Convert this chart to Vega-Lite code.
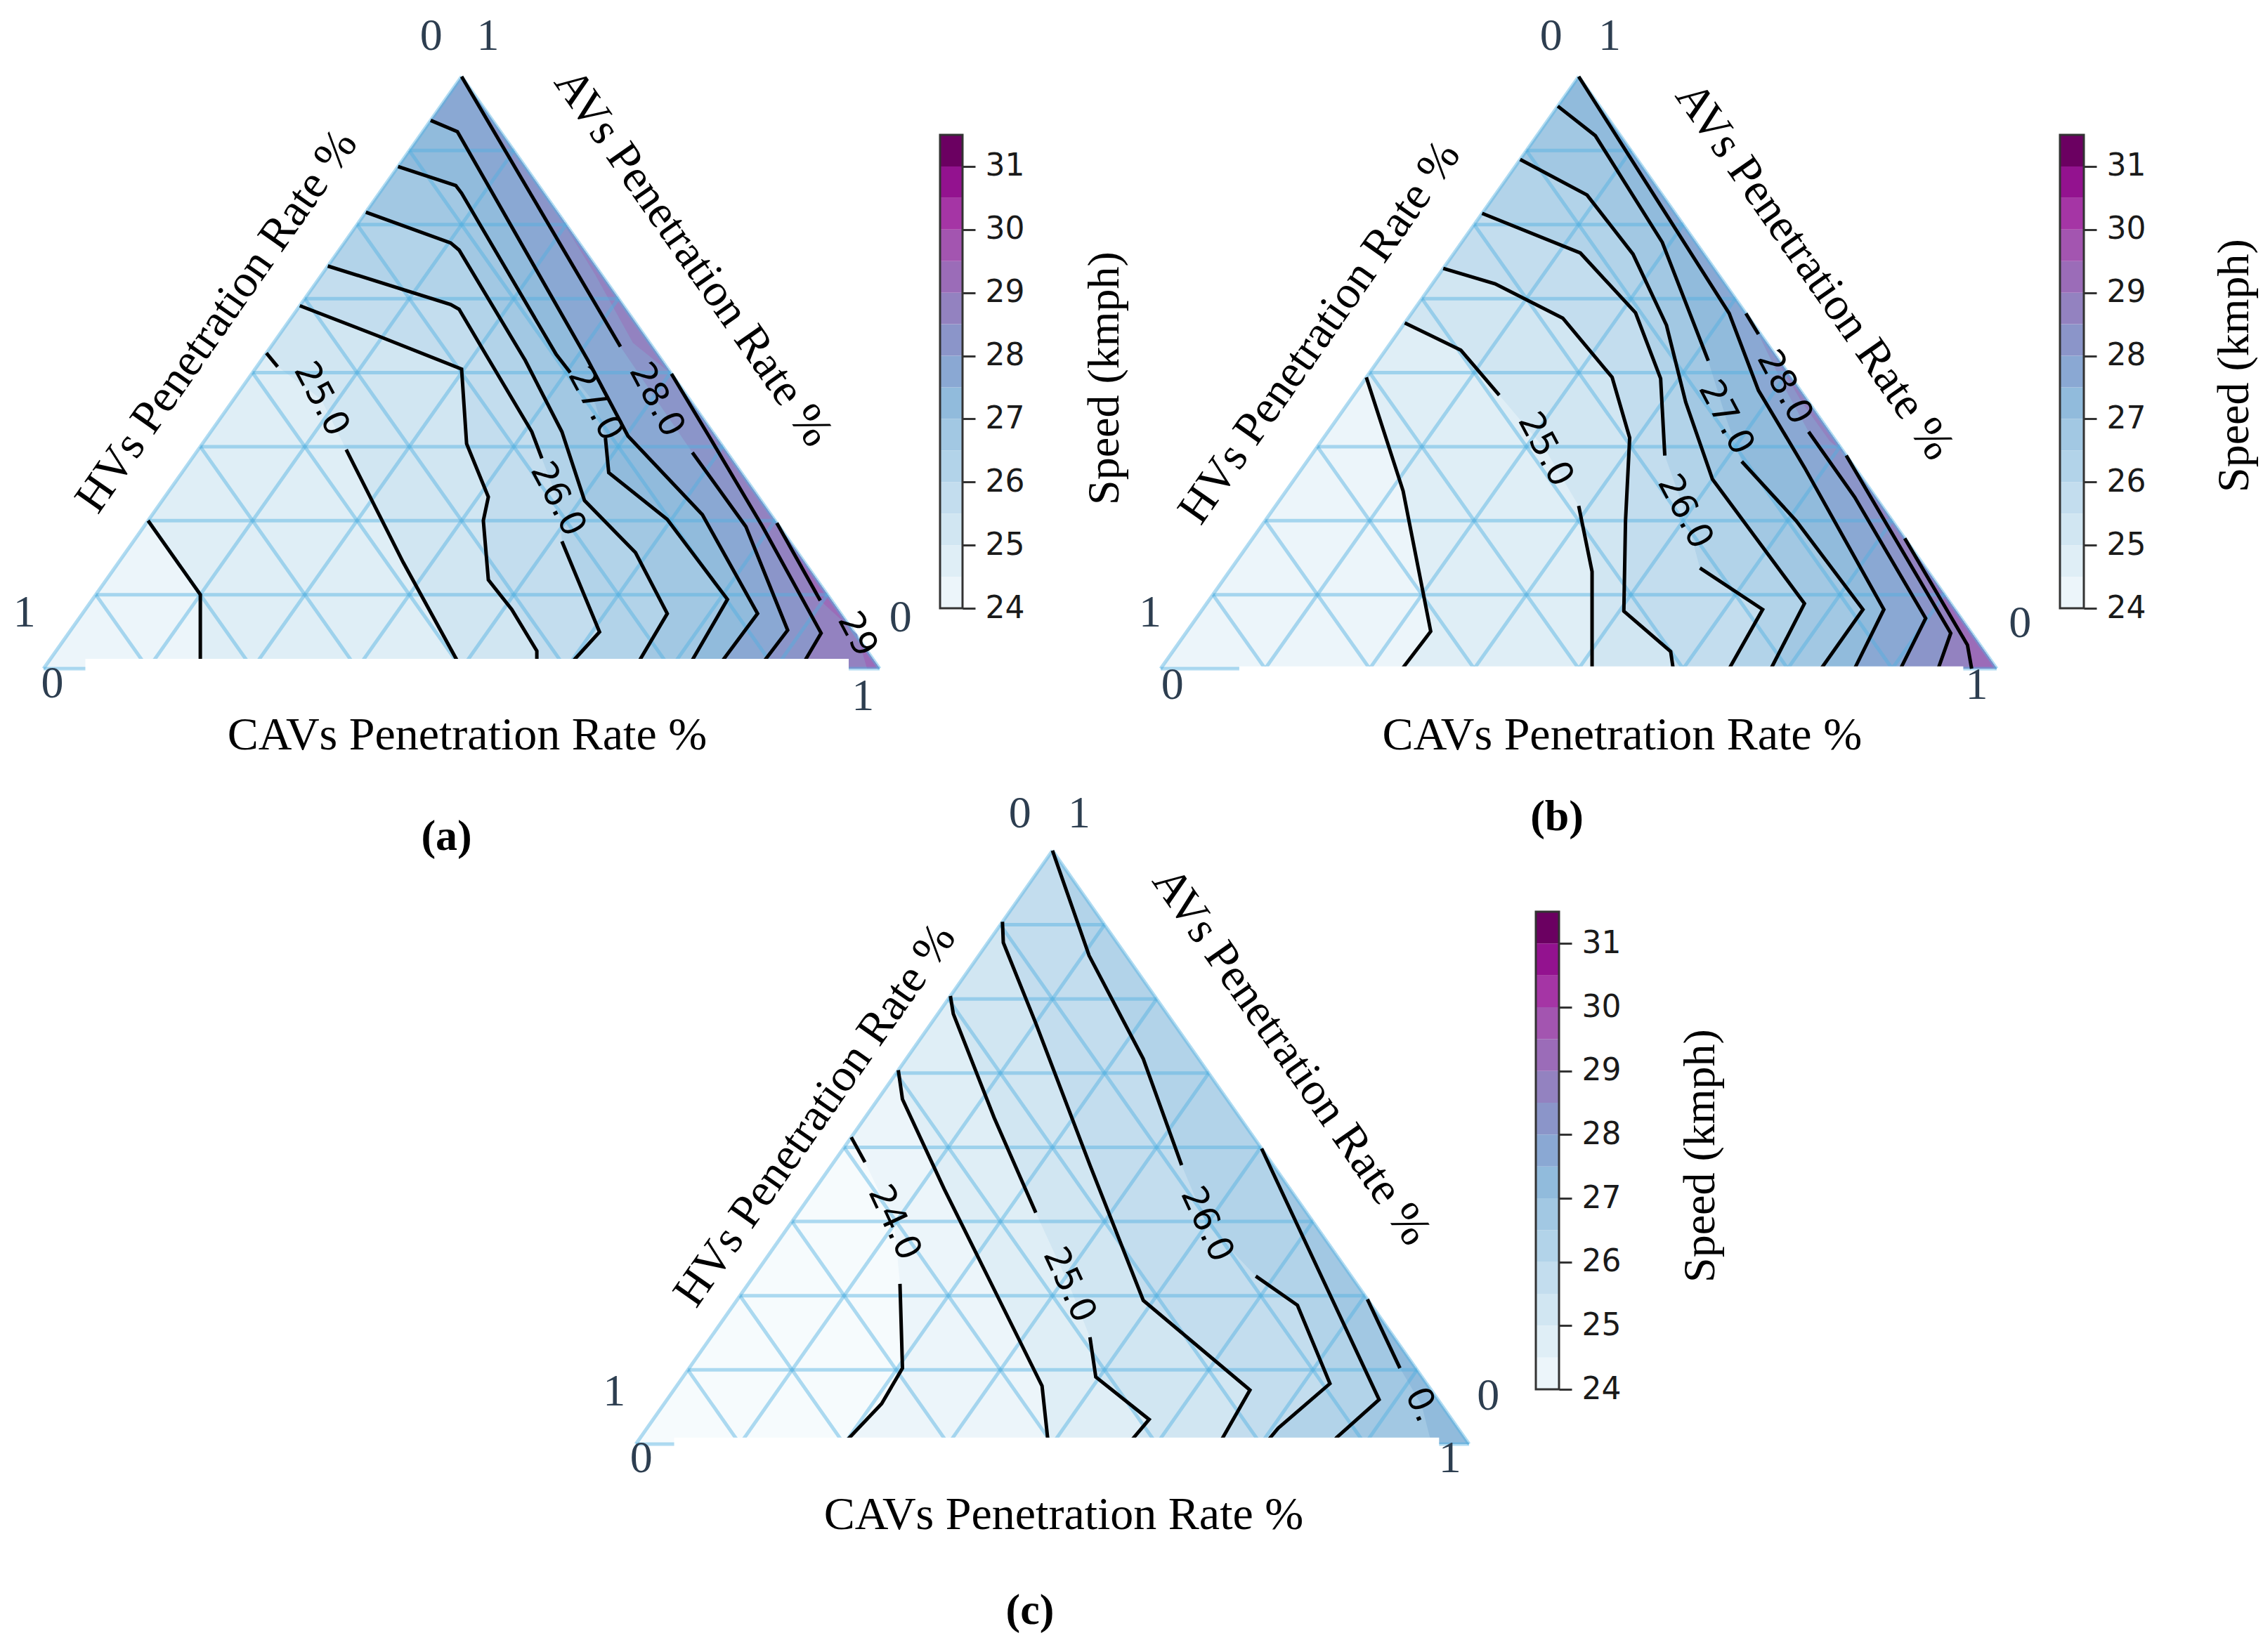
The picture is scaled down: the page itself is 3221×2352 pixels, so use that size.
{
"$schema": "https://vega.github.io/schema/vega-lite/v6.json",
"background": "#ffffff",
"padding": 0,
"autosize": {"type": "none"},
"width": 3221,
"height": 2352,
"config": {"view": {"stroke": null}},
"datasets": {
"grid": [
{"x":0.0625,"y":0.125,"x2":0.9375,"y2":0.125},{"x":0.125,"y":0.25,"x2":0.875,"y2":0.25},{"x":0.1875,"y":0.375,"x2":0.8125,"y2":0.375},{"x":0.25,"y":0.5,"x2":0.75,"y2":0.5},{"x":0.3125,"y":0.625,"x2":0.6875,"y2":0.625},{"x":0.375,"y":0.75,"x2":0.625,"y2":0.75},{"x":0.4375,"y":0.875,"x2":0.5625,"y2":0.875},
{"x":0.125,"y":0,"x2":0.5625,"y2":0.875},{"x":0.25,"y":0,"x2":0.625,"y2":0.75},{"x":0.375,"y":0,"x2":0.6875,"y2":0.625},{"x":0.5,"y":0,"x2":0.75,"y2":0.5},{"x":0.625,"y":0,"x2":0.8125,"y2":0.375},{"x":0.75,"y":0,"x2":0.875,"y2":0.25},{"x":0.875,"y":0,"x2":0.9375,"y2":0.125},
{"x":0.125,"y":0,"x2":0.0625,"y2":0.125},{"x":0.25,"y":0,"x2":0.125,"y2":0.25},{"x":0.375,"y":0,"x2":0.1875,"y2":0.375},{"x":0.5,"y":0,"x2":0.25,"y2":0.5},{"x":0.625,"y":0,"x2":0.3125,"y2":0.625},{"x":0.75,"y":0,"x2":0.375,"y2":0.75},{"x":0.875,"y":0,"x2":0.4375,"y2":0.875},
{"x":0,"y":0,"x2":1,"y2":0},{"x":0,"y":0,"x2":0.5,"y2":1},{"x":1,"y":0,"x2":0.5,"y2":1}
],
"cbar": [
{"lo":24,"hi":24.5},{"lo":24.5,"hi":25},{"lo":25,"hi":25.5},{"lo":25.5,"hi":26},{"lo":26,"hi":26.5},{"lo":26.5,"hi":27},{"lo":27,"hi":27.5},{"lo":27.5,"hi":28},{"lo":28,"hi":28.5},{"lo":28.5,"hi":29},{"lo":29,"hi":29.5},{"lo":29.5,"hi":30},{"lo":30,"hi":30.5},{"lo":30.5,"hi":31},{"lo":31,"hi":31.5}
],
"frame": [{"lo":24,"hi":31.5}],
"strip": [
{"p":"a","x":0.05,"x2":0.963,"y":-0.03,"y2":0.0166},
{"p":"b","x":0.094,"x2":0.96,"y":-0.03,"y2":0.004},
{"p":"c","x":0.046,"x2":0.964,"y":-0.03,"y2":0.011}
],
"txt": [
{"p":"a","k":"n","x":0.4636,"y":1.068,"t":"0"},{"p":"a","k":"n","x":0.5315,"y":1.068,"t":"1"},{"p":"a","k":"n","x":-0.023,"y":0.094,"t":"1"},{"p":"a","k":"n","x":0.0105,"y":-0.026,"t":"0"},{"p":"a","k":"n","x":1.025,"y":0.085,"t":"0"},{"p":"a","k":"n","x":0.98,"y":-0.048,"t":"1"},
{"p":"a","k":"b","x":0.5067,"y":-0.1127,"t":"CAVs Penetration Rate %"},
{"p":"a","k":"h","x":0.207,"y":0.587,"t":"HVs Penetration Rate %"},
{"p":"a","k":"v","x":0.777,"y":0.694,"t":"AVs Penetration Rate %"},
{"p":"a","k":"g","x":0.482,"y":-0.2835,"t":"(a)"},
{"p":"a","k":"c","x":0.332,"y":0.455,"t":"25.0"},{"p":"a","k":"c","x":0.615,"y":0.286,"t":"26.0"},{"p":"a","k":"c","x":0.66,"y":0.447,"t":"27.0"},{"p":"a","k":"c","x":0.733,"y":0.454,"t":"28.0"},{"p":"a","k":"c","x":0.973,"y":0.058,"t":"29"},
{"p":"b","k":"n","x":0.467,"y":1.068,"t":"0"},{"p":"b","k":"n","x":0.537,"y":1.068,"t":"1"},{"p":"b","k":"n","x":-0.0126,"y":0.0937,"t":"1"},{"p":"b","k":"n","x":0.014,"y":-0.029,"t":"0"},{"p":"b","k":"n","x":1.028,"y":0.0756,"t":"0"},{"p":"b","k":"n","x":0.976,"y":-0.029,"t":"1"},
{"p":"b","k":"b","x":0.552,"y":-0.1127,"t":"CAVs Penetration Rate %"},
{"p":"b","k":"h","x":0.19,"y":0.568,"t":"HVs Penetration Rate %"},
{"p":"b","k":"v","x":0.782,"y":0.671,"t":"AVs Penetration Rate %"},
{"p":"b","k":"g","x":0.474,"y":-0.2503,"t":"(b)"},
{"p":"b","k":"c","x":0.46,"y":0.37,"t":"25.0"},{"p":"b","k":"c","x":0.627,"y":0.265,"t":"26.0"},{"p":"b","k":"c","x":0.676,"y":0.424,"t":"27.0"},{"p":"b","k":"c","x":0.746,"y":0.475,"t":"28.0"},
{"p":"c","k":"n","x":0.461,"y":1.062,"t":"0"},{"p":"c","k":"n","x":0.532,"y":1.062,"t":"1"},{"p":"c","k":"n","x":-0.026,"y":0.088,"t":"1"},{"p":"c","k":"n","x":0.0065,"y":-0.025,"t":"0"},{"p":"c","k":"n","x":1.023,"y":0.081,"t":"0"},{"p":"c","k":"n","x":0.977,"y":-0.025,"t":"1"},
{"p":"c","k":"b","x":0.5135,"y":-0.119,"t":"CAVs Penetration Rate %"},
{"p":"c","k":"h","x":0.215,"y":0.554,"t":"HVs Penetration Rate %"},
{"p":"c","k":"v","x":0.7867,"y":0.653,"t":"AVs Penetration Rate %"},
{"p":"c","k":"g","x":0.473,"y":-0.28,"t":"(c)"},
{"p":"c","k":"c","x":0.31,"y":0.373,"t":"24.0"},{"p":"c","k":"c","x":0.52,"y":0.268,"t":"25.0"},{"p":"c","k":"c","x":0.685,"y":0.37,"t":"26.0"},{"p":"c","k":"c","x":0.943,"y":0.066,"t":"0."}
],
"pts": [
{"p":"a","g":"a00","v":24,"o":0,"x":0,"y":0,"s":""},{"p":"a","g":"a00","v":24,"o":1,"x":1,"y":0,"s":""},{"p":"a","g":"a00","v":24,"o":2,"x":0.5,"y":1,"s":""},
{"p":"a","g":"a01","v":24.5,"o":0,"x":0.125,"y":0.25,"s":"a01"},{"p":"a","g":"a01","v":24.5,"o":1,"x":0.1875,"y":0.125,"s":"a01"},{"p":"a","g":"a01","v":24.5,"o":2,"x":0.1875,"y":0,"s":"a01"},{"p":"a","g":"a01","v":24.5,"o":3,"x":1,"y":0,"s":""},{"p":"a","g":"a01","v":24.5,"o":4,"x":0.5,"y":1,"s":""},
{"p":"a","g":"a02","v":25,"o":0,"x":0.2665,"y":0.533,"s":"a02a"},{"p":"a","g":"a02","v":25,"o":1,"x":0.28,"y":0.51,"s":"a02a"},{"p":"a","g":"a02","v":25,"o":2,"x":0.332,"y":0.455,"s":""},{"p":"a","g":"a02","v":25,"o":3,"x":0.362,"y":0.37,"s":"a02b"},{"p":"a","g":"a02","v":25,"o":4,"x":0.43,"y":0.18,"s":"a02b"},{"p":"a","g":"a02","v":25,"o":5,"x":0.5,"y":0,"s":"a02b"},{"p":"a","g":"a02","v":25,"o":6,"x":1,"y":0,"s":""},{"p":"a","g":"a02","v":25,"o":7,"x":0.5,"y":1,"s":""},
{"p":"a","g":"a03","v":25.5,"o":0,"x":0.3065,"y":0.613,"s":"a03"},{"p":"a","g":"a03","v":25.5,"o":1,"x":0.4,"y":0.562,"s":"a03"},{"p":"a","g":"a03","v":25.5,"o":2,"x":0.5,"y":0.506,"s":"a03"},{"p":"a","g":"a03","v":25.5,"o":3,"x":0.506,"y":0.38,"s":"a03"},{"p":"a","g":"a03","v":25.5,"o":4,"x":0.532,"y":0.29,"s":"a03"},{"p":"a","g":"a03","v":25.5,"o":5,"x":0.526,"y":0.25,"s":"a03"},{"p":"a","g":"a03","v":25.5,"o":6,"x":0.532,"y":0.15,"s":"a03"},{"p":"a","g":"a03","v":25.5,"o":7,"x":0.56,"y":0.1,"s":"a03"},{"p":"a","g":"a03","v":25.5,"o":8,"x":0.59,"y":0.03,"s":"a03"},{"p":"a","g":"a03","v":25.5,"o":9,"x":0.59,"y":0,"s":"a03"},{"p":"a","g":"a03","v":25.5,"o":10,"x":1,"y":0,"s":""},{"p":"a","g":"a03","v":25.5,"o":11,"x":0.5,"y":1,"s":""},
{"p":"a","g":"a04","v":26,"o":0,"x":0.34,"y":0.68,"s":"a04a"},{"p":"a","g":"a04","v":26,"o":1,"x":0.487,"y":0.615,"s":"a04a"},{"p":"a","g":"a04","v":26,"o":2,"x":0.497,"y":0.607,"s":"a04a"},{"p":"a","g":"a04","v":26,"o":3,"x":0.533,"y":0.521,"s":"a04a"},{"p":"a","g":"a04","v":26,"o":4,"x":0.584,"y":0.4,"s":"a04a"},{"p":"a","g":"a04","v":26,"o":5,"x":0.596,"y":0.355,"s":"a04a"},{"p":"a","g":"a04","v":26,"o":6,"x":0.615,"y":0.286,"s":""},{"p":"a","g":"a04","v":26,"o":7,"x":0.62,"y":0.215,"s":"a04b"},{"p":"a","g":"a04","v":26,"o":8,"x":0.665,"y":0.062,"s":"a04b"},{"p":"a","g":"a04","v":26,"o":9,"x":0.625,"y":0,"s":"a04b"},{"p":"a","g":"a04","v":26,"o":10,"x":1,"y":0,"s":""},{"p":"a","g":"a04","v":26,"o":11,"x":0.5,"y":1,"s":""},
{"p":"a","g":"a05","v":26.5,"o":0,"x":0.3855,"y":0.771,"s":"a05"},{"p":"a","g":"a05","v":26.5,"o":1,"x":0.487,"y":0.719,"s":"a05"},{"p":"a","g":"a05","v":26.5,"o":2,"x":0.497,"y":0.707,"s":"a05"},{"p":"a","g":"a05","v":26.5,"o":3,"x":0.576,"y":0.521,"s":"a05"},{"p":"a","g":"a05","v":26.5,"o":4,"x":0.62,"y":0.4,"s":"a05"},{"p":"a","g":"a05","v":26.5,"o":5,"x":0.647,"y":0.284,"s":"a05"},{"p":"a","g":"a05","v":26.5,"o":6,"x":0.708,"y":0.196,"s":"a05"},{"p":"a","g":"a05","v":26.5,"o":7,"x":0.746,"y":0.093,"s":"a05"},{"p":"a","g":"a05","v":26.5,"o":8,"x":0.707,"y":0,"s":"a05"},{"p":"a","g":"a05","v":26.5,"o":9,"x":1,"y":0,"s":""},{"p":"a","g":"a05","v":26.5,"o":10,"x":0.5,"y":1,"s":""},
{"p":"a","g":"a06","v":27,"o":0,"x":0.424,"y":0.848,"s":"a06a"},{"p":"a","g":"a06","v":27,"o":1,"x":0.493,"y":0.816,"s":"a06a"},{"p":"a","g":"a06","v":27,"o":2,"x":0.5,"y":0.803,"s":"a06a"},{"p":"a","g":"a06","v":27,"o":3,"x":0.613,"y":0.531,"s":"a06a"},{"p":"a","g":"a06","v":27,"o":4,"x":0.63,"y":0.5,"s":"a06a"},{"p":"a","g":"a06","v":27,"o":5,"x":0.66,"y":0.447,"s":""},{"p":"a","g":"a06","v":27,"o":6,"x":0.672,"y":0.39,"s":"a06b"},{"p":"a","g":"a06","v":27,"o":7,"x":0.676,"y":0.331,"s":"a06b"},{"p":"a","g":"a06","v":27,"o":8,"x":0.746,"y":0.252,"s":"a06b"},{"p":"a","g":"a06","v":27,"o":9,"x":0.818,"y":0.117,"s":"a06b"},{"p":"a","g":"a06","v":27,"o":10,"x":0.77,"y":0,"s":"a06b"},{"p":"a","g":"a06","v":27,"o":11,"x":1,"y":0,"s":""},{"p":"a","g":"a06","v":27,"o":12,"x":0.5,"y":1,"s":""},
{"p":"a","g":"a07","v":27.5,"o":0,"x":0.463,"y":0.926,"s":"a07"},{"p":"a","g":"a07","v":27.5,"o":1,"x":0.495,"y":0.907,"s":"a07"},{"p":"a","g":"a07","v":27.5,"o":2,"x":0.651,"y":0.521,"s":"a07"},{"p":"a","g":"a07","v":27.5,"o":3,"x":0.699,"y":0.393,"s":"a07"},{"p":"a","g":"a07","v":27.5,"o":4,"x":0.788,"y":0.26,"s":"a07"},{"p":"a","g":"a07","v":27.5,"o":5,"x":0.854,"y":0.093,"s":"a07"},{"p":"a","g":"a07","v":27.5,"o":6,"x":0.805,"y":0,"s":"a07"},{"p":"a","g":"a07","v":27.5,"o":7,"x":1,"y":0,"s":""},{"p":"a","g":"a07","v":27.5,"o":8,"x":0.5,"y":1,"s":""},
{"p":"a","g":"a08","v":28,"o":0,"x":0.5,"y":1,"s":"a08a"},{"p":"a","g":"a08","v":28,"o":1,"x":0.69,"y":0.544,"s":"a08a"},{"p":"a","g":"a08","v":28,"o":2,"x":0.733,"y":0.454,"s":""},{"p":"a","g":"a08","v":28,"o":3,"x":0.776,"y":0.365,"s":"a08b"},{"p":"a","g":"a08","v":28,"o":4,"x":0.84,"y":0.24,"s":"a08b"},{"p":"a","g":"a08","v":28,"o":5,"x":0.89,"y":0.065,"s":"a08b"},{"p":"a","g":"a08","v":28,"o":6,"x":0.855,"y":0,"s":"a08b"},{"p":"a","g":"a08","v":28,"o":7,"x":1,"y":0,"s":""},
{"p":"a","g":"a085","v":28.5,"o":0,"x":0.61,"y":0.78,"s":""},{"p":"a","g":"a085","v":28.5,"o":1,"x":0.66,"y":0.665,"s":""},{"p":"a","g":"a085","v":28.5,"o":2,"x":0.705,"y":0.55,"s":""},{"p":"a","g":"a085","v":28.5,"o":3,"x":0.751,"y":0.498,"s":""},
{"p":"a","g":"a09","v":28.5,"o":0,"x":0.751,"y":0.498,"s":"a09"},{"p":"a","g":"a09","v":28.5,"o":1,"x":0.797,"y":0.39,"s":"a09"},{"p":"a","g":"a09","v":28.5,"o":2,"x":0.86,"y":0.24,"s":"a09"},{"p":"a","g":"a09","v":28.5,"o":3,"x":0.93,"y":0.06,"s":"a09"},{"p":"a","g":"a09","v":28.5,"o":4,"x":0.905,"y":0,"s":"a09"},{"p":"a","g":"a09","v":28.5,"o":5,"x":1,"y":0,"s":""},
{"p":"a","g":"a10","v":29,"o":0,"x":0.877,"y":0.246,"s":"a10"},{"p":"a","g":"a10","v":29,"o":1,"x":0.929,"y":0.115,"s":"a10"},{"p":"a","g":"a10","v":29,"o":2,"x":0.973,"y":0.058,"s":""},{"p":"a","g":"a10","v":29,"o":3,"x":0.985,"y":0,"s":""},{"p":"a","g":"a10","v":29,"o":4,"x":1,"y":0,"s":""},

{"p":"b","g":"b00","v":24,"o":0,"x":0,"y":0,"s":""},{"p":"b","g":"b00","v":24,"o":1,"x":1,"y":0,"s":""},{"p":"b","g":"b00","v":24,"o":2,"x":0.5,"y":1,"s":""},
{"p":"b","g":"b01","v":24.5,"o":0,"x":0.246,"y":0.492,"s":"b01"},{"p":"b","g":"b01","v":24.5,"o":1,"x":0.29,"y":0.3,"s":"b01"},{"p":"b","g":"b01","v":24.5,"o":2,"x":0.323,"y":0.063,"s":"b01"},{"p":"b","g":"b01","v":24.5,"o":3,"x":0.289,"y":0,"s":"b01"},{"p":"b","g":"b01","v":24.5,"o":4,"x":1,"y":0,"s":""},{"p":"b","g":"b01","v":24.5,"o":5,"x":0.5,"y":1,"s":""},
{"p":"b","g":"b02","v":25,"o":0,"x":0.292,"y":0.584,"s":"b02a"},{"p":"b","g":"b02","v":25,"o":1,"x":0.359,"y":0.538,"s":"b02a"},{"p":"b","g":"b02","v":25,"o":2,"x":0.405,"y":0.462,"s":"b02a"},{"p":"b","g":"b02","v":25,"o":3,"x":0.46,"y":0.37,"s":""},{"p":"b","g":"b02","v":25,"o":4,"x":0.5,"y":0.275,"s":"b02b"},{"p":"b","g":"b02","v":25,"o":5,"x":0.516,"y":0.164,"s":"b02b"},{"p":"b","g":"b02","v":25,"o":6,"x":0.516,"y":0,"s":"b02b"},{"p":"b","g":"b02","v":25,"o":7,"x":1,"y":0,"s":""},{"p":"b","g":"b02","v":25,"o":8,"x":0.5,"y":1,"s":""},
{"p":"b","g":"b03","v":25.5,"o":0,"x":0.338,"y":0.676,"s":"b03"},{"p":"b","g":"b03","v":25.5,"o":1,"x":0.4,"y":0.65,"s":"b03"},{"p":"b","g":"b03","v":25.5,"o":2,"x":0.481,"y":0.592,"s":"b03"},{"p":"b","g":"b03","v":25.5,"o":3,"x":0.54,"y":0.492,"s":"b03"},{"p":"b","g":"b03","v":25.5,"o":4,"x":0.561,"y":0.39,"s":"b03"},{"p":"b","g":"b03","v":25.5,"o":5,"x":0.556,"y":0.25,"s":"b03"},{"p":"b","g":"b03","v":25.5,"o":6,"x":0.554,"y":0.097,"s":"b03"},{"p":"b","g":"b03","v":25.5,"o":7,"x":0.61,"y":0.029,"s":"b03"},{"p":"b","g":"b03","v":25.5,"o":8,"x":0.613,"y":0,"s":"b03"},{"p":"b","g":"b03","v":25.5,"o":9,"x":1,"y":0,"s":""},{"p":"b","g":"b03","v":25.5,"o":10,"x":0.5,"y":1,"s":""},
{"p":"b","g":"b04","v":26,"o":0,"x":0.3845,"y":0.769,"s":"b04a"},{"p":"b","g":"b04","v":26,"o":1,"x":0.502,"y":0.702,"s":"b04a"},{"p":"b","g":"b04","v":26,"o":2,"x":0.568,"y":0.601,"s":"b04a"},{"p":"b","g":"b04","v":26,"o":3,"x":0.598,"y":0.49,"s":"b04a"},{"p":"b","g":"b04","v":26,"o":4,"x":0.603,"y":0.36,"s":"b04a"},{"p":"b","g":"b04","v":26,"o":5,"x":0.627,"y":0.265,"s":""},{"p":"b","g":"b04","v":26,"o":6,"x":0.645,"y":0.17,"s":"b04b"},{"p":"b","g":"b04","v":26,"o":7,"x":0.72,"y":0.1,"s":"b04b"},{"p":"b","g":"b04","v":26,"o":8,"x":0.68,"y":0,"s":"b04b"},{"p":"b","g":"b04","v":26,"o":9,"x":1,"y":0,"s":""},{"p":"b","g":"b04","v":26,"o":10,"x":0.5,"y":1,"s":""},
{"p":"b","g":"b05","v":26.5,"o":0,"x":0.43,"y":0.86,"s":"b05"},{"p":"b","g":"b05","v":26.5,"o":1,"x":0.51,"y":0.8,"s":"b05"},{"p":"b","g":"b05","v":26.5,"o":2,"x":0.565,"y":0.7,"s":"b05"},{"p":"b","g":"b05","v":26.5,"o":3,"x":0.605,"y":0.58,"s":"b05"},{"p":"b","g":"b05","v":26.5,"o":4,"x":0.628,"y":0.45,"s":"b05"},{"p":"b","g":"b05","v":26.5,"o":5,"x":0.66,"y":0.32,"s":"b05"},{"p":"b","g":"b05","v":26.5,"o":6,"x":0.77,"y":0.11,"s":"b05"},{"p":"b","g":"b05","v":26.5,"o":7,"x":0.73,"y":0,"s":"b05"},{"p":"b","g":"b05","v":26.5,"o":8,"x":1,"y":0,"s":""},{"p":"b","g":"b05","v":26.5,"o":9,"x":0.5,"y":1,"s":""},
{"p":"b","g":"b06","v":27,"o":0,"x":0.475,"y":0.95,"s":"b06a"},{"p":"b","g":"b06","v":27,"o":1,"x":0.52,"y":0.9,"s":"b06a"},{"p":"b","g":"b06","v":27,"o":2,"x":0.6,"y":0.72,"s":"b06a"},{"p":"b","g":"b06","v":27,"o":3,"x":0.655,"y":0.52,"s":"b06a"},{"p":"b","g":"b06","v":27,"o":4,"x":0.676,"y":0.424,"s":""},{"p":"b","g":"b06","v":27,"o":5,"x":0.695,"y":0.35,"s":"b06b"},{"p":"b","g":"b06","v":27,"o":6,"x":0.76,"y":0.25,"s":"b06b"},{"p":"b","g":"b06","v":27,"o":7,"x":0.84,"y":0.1,"s":"b06b"},{"p":"b","g":"b06","v":27,"o":8,"x":0.79,"y":0,"s":"b06b"},{"p":"b","g":"b06","v":27,"o":9,"x":1,"y":0,"s":""},{"p":"b","g":"b06","v":27,"o":10,"x":0.5,"y":1,"s":""},
{"p":"b","g":"b07","v":27.5,"o":0,"x":0.5,"y":1,"s":"b07"},{"p":"b","g":"b07","v":27.5,"o":1,"x":0.59,"y":0.8,"s":"b07"},{"p":"b","g":"b07","v":27.5,"o":2,"x":0.68,"y":0.6,"s":"b07"},{"p":"b","g":"b07","v":27.5,"o":3,"x":0.715,"y":0.47,"s":"b07"},{"p":"b","g":"b07","v":27.5,"o":4,"x":0.77,"y":0.34,"s":"b07"},{"p":"b","g":"b07","v":27.5,"o":5,"x":0.865,"y":0.1,"s":"b07"},{"p":"b","g":"b07","v":27.5,"o":6,"x":0.83,"y":0,"s":"b07"},{"p":"b","g":"b07","v":27.5,"o":7,"x":1,"y":0,"s":""},
{"p":"b","g":"b08","v":28,"o":0,"x":0.7,"y":0.6,"s":"b08a"},{"p":"b","g":"b08","v":28,"o":1,"x":0.715,"y":0.565,"s":"b08a"},{"p":"b","g":"b08","v":28,"o":2,"x":0.746,"y":0.475,"s":""},{"p":"b","g":"b08","v":28,"o":3,"x":0.775,"y":0.4,"s":"b08b"},{"p":"b","g":"b08","v":28,"o":4,"x":0.83,"y":0.29,"s":"b08b"},{"p":"b","g":"b08","v":28,"o":5,"x":0.915,"y":0.085,"s":"b08b"},{"p":"b","g":"b08","v":28,"o":6,"x":0.885,"y":0,"s":"b08b"},{"p":"b","g":"b08","v":28,"o":7,"x":1,"y":0,"s":""},
{"p":"b","g":"b085","v":28.5,"o":0,"x":0.725,"y":0.55,"s":""},{"p":"b","g":"b085","v":28.5,"o":1,"x":0.767,"y":0.45,"s":""},{"p":"b","g":"b085","v":28.5,"o":2,"x":0.8,"y":0.385,"s":""},{"p":"b","g":"b085","v":28.5,"o":3,"x":0.82,"y":0.36,"s":""},
{"p":"b","g":"b09","v":28.5,"o":0,"x":0.82,"y":0.36,"s":"b09"},{"p":"b","g":"b09","v":28.5,"o":1,"x":0.87,"y":0.24,"s":"b09"},{"p":"b","g":"b09","v":28.5,"o":2,"x":0.945,"y":0.06,"s":"b09"},{"p":"b","g":"b09","v":28.5,"o":3,"x":0.93,"y":0,"s":"b09"},{"p":"b","g":"b09","v":28.5,"o":4,"x":1,"y":0,"s":""},
{"p":"b","g":"b10","v":29,"o":0,"x":0.89,"y":0.22,"s":"b10"},{"p":"b","g":"b10","v":29,"o":1,"x":0.965,"y":0.04,"s":"b10"},{"p":"b","g":"b10","v":29,"o":2,"x":0.97,"y":0,"s":"b10"},{"p":"b","g":"b10","v":29,"o":3,"x":1,"y":0,"s":""},

{"p":"c","g":"c00","v":23.5,"o":0,"x":0,"y":0,"s":""},{"p":"c","g":"c00","v":23.5,"o":1,"x":1,"y":0,"s":""},{"p":"c","g":"c00","v":23.5,"o":2,"x":0.5,"y":1,"s":""},
{"p":"c","g":"c01","v":24,"o":0,"x":0.2585,"y":0.517,"s":"c01a"},{"p":"c","g":"c01","v":24,"o":1,"x":0.275,"y":0.475,"s":"c01a"},{"p":"c","g":"c01","v":24,"o":2,"x":0.31,"y":0.373,"s":""},{"p":"c","g":"c01","v":24,"o":3,"x":0.317,"y":0.27,"s":"c01b"},{"p":"c","g":"c01","v":24,"o":4,"x":0.32,"y":0.128,"s":"c01b"},{"p":"c","g":"c01","v":24,"o":5,"x":0.295,"y":0.068,"s":"c01b"},{"p":"c","g":"c01","v":24,"o":6,"x":0.249,"y":0,"s":"c01b"},{"p":"c","g":"c01","v":24,"o":7,"x":1,"y":0,"s":""},{"p":"c","g":"c01","v":24,"o":8,"x":0.5,"y":1,"s":""},
{"p":"c","g":"c02","v":24.5,"o":0,"x":0.315,"y":0.63,"s":"c02"},{"p":"c","g":"c02","v":24.5,"o":1,"x":0.32,"y":0.581,"s":"c02"},{"p":"c","g":"c02","v":24.5,"o":2,"x":0.37,"y":0.43,"s":"c02"},{"p":"c","g":"c02","v":24.5,"o":3,"x":0.4235,"y":0.279,"s":"c02"},{"p":"c","g":"c02","v":24.5,"o":4,"x":0.4875,"y":0.098,"s":"c02"},{"p":"c","g":"c02","v":24.5,"o":5,"x":0.495,"y":0,"s":"c02"},{"p":"c","g":"c02","v":24.5,"o":6,"x":1,"y":0,"s":""},{"p":"c","g":"c02","v":24.5,"o":7,"x":0.5,"y":1,"s":""},
{"p":"c","g":"c03","v":25,"o":0,"x":0.3775,"y":0.755,"s":"c03a"},{"p":"c","g":"c03","v":25,"o":1,"x":0.381,"y":0.725,"s":"c03a"},{"p":"c","g":"c03","v":25,"o":2,"x":0.43,"y":0.55,"s":"c03a"},{"p":"c","g":"c03","v":25,"o":3,"x":0.48,"y":0.39,"s":"c03a"},{"p":"c","g":"c03","v":25,"o":4,"x":0.52,"y":0.268,"s":""},{"p":"c","g":"c03","v":25,"o":5,"x":0.545,"y":0.18,"s":"c03b"},{"p":"c","g":"c03","v":25,"o":6,"x":0.552,"y":0.113,"s":"c03b"},{"p":"c","g":"c03","v":25,"o":7,"x":0.616,"y":0.0415,"s":"c03b"},{"p":"c","g":"c03","v":25,"o":8,"x":0.591,"y":0,"s":"c03b"},{"p":"c","g":"c03","v":25,"o":9,"x":1,"y":0,"s":""},{"p":"c","g":"c03","v":25,"o":10,"x":0.5,"y":1,"s":""},
{"p":"c","g":"c04","v":25.5,"o":0,"x":0.44,"y":0.88,"s":"c04"},{"p":"c","g":"c04","v":25.5,"o":1,"x":0.441,"y":0.845,"s":"c04"},{"p":"c","g":"c04","v":25.5,"o":2,"x":0.48,"y":0.709,"s":"c04"},{"p":"c","g":"c04","v":25.5,"o":3,"x":0.545,"y":0.47,"s":"c04"},{"p":"c","g":"c04","v":25.5,"o":4,"x":0.609,"y":0.242,"s":"c04"},{"p":"c","g":"c04","v":25.5,"o":5,"x":0.737,"y":0.091,"s":"c04"},{"p":"c","g":"c04","v":25.5,"o":6,"x":0.7,"y":0,"s":"c04"},{"p":"c","g":"c04","v":25.5,"o":7,"x":1,"y":0,"s":""},{"p":"c","g":"c04","v":25.5,"o":8,"x":0.5,"y":1,"s":""},
{"p":"c","g":"c05","v":26,"o":0,"x":0.5,"y":1,"s":"c05a"},{"p":"c","g":"c05","v":26,"o":1,"x":0.544,"y":0.823,"s":"c05a"},{"p":"c","g":"c05","v":26,"o":2,"x":0.609,"y":0.649,"s":"c05a"},{"p":"c","g":"c05","v":26,"o":3,"x":0.655,"y":0.47,"s":"c05a"},{"p":"c","g":"c05","v":26,"o":4,"x":0.685,"y":0.37,"s":""},{"p":"c","g":"c05","v":26,"o":5,"x":0.744,"y":0.283,"s":"c05b"},{"p":"c","g":"c05","v":26,"o":6,"x":0.794,"y":0.234,"s":"c05b"},{"p":"c","g":"c05","v":26,"o":7,"x":0.833,"y":0.102,"s":"c05b"},{"p":"c","g":"c05","v":26,"o":8,"x":0.771,"y":0.027,"s":"c05b"},{"p":"c","g":"c05","v":26,"o":9,"x":0.755,"y":0,"s":"c05b"},{"p":"c","g":"c05","v":26,"o":10,"x":1,"y":0,"s":""},
{"p":"c","g":"c06","v":26.5,"o":0,"x":0.751,"y":0.498,"s":"c06"},{"p":"c","g":"c06","v":26.5,"o":1,"x":0.808,"y":0.327,"s":"c06"},{"p":"c","g":"c06","v":26.5,"o":2,"x":0.892,"y":0.075,"s":"c06"},{"p":"c","g":"c06","v":26.5,"o":3,"x":0.841,"y":0.011,"s":"c06"},{"p":"c","g":"c06","v":26.5,"o":4,"x":0.835,"y":0,"s":"c06"},{"p":"c","g":"c06","v":26.5,"o":5,"x":1,"y":0,"s":""},
{"p":"c","g":"c07","v":27,"o":0,"x":0.878,"y":0.244,"s":"c07"},{"p":"c","g":"c07","v":27,"o":1,"x":0.917,"y":0.128,"s":"c07"},{"p":"c","g":"c07","v":27,"o":2,"x":0.943,"y":0.066,"s":""},{"p":"c","g":"c07","v":27,"o":3,"x":0.955,"y":0,"s":""},{"p":"c","g":"c07","v":27,"o":4,"x":1,"y":0,"s":""}
]
},
"resolve": {"scale": {"x": "independent", "y": "independent"}, "axis": {"x": "independent", "y": "independent"}},
"layer": [
{"encoding": {"x": {"field": "x", "type": "quantitative", "scale": {"domain": [-0.052101, 2.654622], "nice": false, "zero": false}, "axis": null},
              "y": {"field": "y", "type": "quantitative", "scale": {"domain": [-1.660735, 1.129300], "nice": false, "zero": false}, "axis": null}},
 "layer": [
  {"data": {"name": "pts"}, "transform": [{"filter": "datum.p == 'a'"}], "mark": {"type": "line", "strokeWidth": 0, "strokeOpacity": 0},
   "encoding": {"order": {"field": "o", "type": "quantitative"}, "detail": {"field": "g", "type": "nominal"},
     "fill": {"field": "v", "type": "quantitative", "legend": null, "scale": {"type": "threshold", "domain": [24,24.5,25,25.5,26,26.5,27,27.5,28,28.5,29,29.5,30,30.5,31], "range": ["#f6fbfd","#ecf5fa","#dfeef6","#d1e6f2","#c3ddee","#b2d3e9","#a2c8e3","#91bbdc","#8aa8d3","#8b95c9","#9382c0","#9b6cb8","#a355b0","#a535a5","#93128f","#6b0061"]}}}},
  {"data": {"name": "grid"}, "mark": {"type": "rule", "color": "#4fb0e0", "opacity": 0.45, "strokeWidth": 5}, "encoding": {"x2": {"field": "x2"}, "y2": {"field": "y2"}}},
  {"data": {"name": "pts"}, "transform": [{"filter": "datum.p == 'a' && datum.s != ''"}], "mark": {"type": "line", "color": "#000000", "strokeWidth": 5},
   "encoding": {"order": {"field": "o", "type": "quantitative"}, "detail": {"field": "s", "type": "nominal"}}},
  {"data": {"name": "txt"}, "transform": [{"filter": "datum.p == 'a' && datum.k == 'c'"}], "mark": {"type": "text", "font": "DejaVu Sans", "fontSize": 50, "angle": 62, "color": "#000000", "align": "center", "baseline": "middle"}, "encoding": {"text": {"field": "t"}}},
  {"data": {"name": "strip"}, "transform": [{"filter": "datum.p == 'a'"}], "mark": {"type": "rect", "color": "#ffffff"}, "encoding": {"x2": {"field": "x2"}, "y2": {"field": "y2"}}},
  {"data": {"name": "txt"}, "transform": [{"filter": "datum.p == 'a' && datum.k == 'n'"}], "mark": {"type": "text", "font": "Liberation Serif", "fontSize": 64, "color": "#2d3e50", "align": "center", "baseline": "middle"}, "encoding": {"text": {"field": "t"}}},
  {"data": {"name": "txt"}, "transform": [{"filter": "datum.p == 'a' && datum.k == 'b'"}], "mark": {"type": "text", "font": "Liberation Serif", "fontSize": 66, "color": "#000000", "align": "center", "baseline": "middle"}, "encoding": {"text": {"field": "t"}}},
  {"data": {"name": "txt"}, "transform": [{"filter": "datum.p == 'a' && datum.k == 'h'"}], "mark": {"type": "text", "font": "Liberation Serif", "fontSize": 66, "angle": -55, "color": "#000000", "align": "center", "baseline": "middle"}, "encoding": {"text": {"field": "t"}}},
  {"data": {"name": "txt"}, "transform": [{"filter": "datum.p == 'a' && datum.k == 'v'"}], "mark": {"type": "text", "font": "Liberation Serif", "fontSize": 66, "angle": 55, "color": "#000000", "align": "center", "baseline": "middle"}, "encoding": {"text": {"field": "t"}}},
  {"data": {"name": "txt"}, "transform": [{"filter": "datum.p == 'a' && datum.k == 'g'"}], "mark": {"type": "text", "font": "Liberation Serif", "fontSize": 62, "fontWeight": "bold", "color": "#000000", "align": "center", "baseline": "middle"}, "encoding": {"text": {"field": "t"}}}
 ]},
{"encoding": {"x": {"datum": 0, "type": "quantitative", "scale": {"domain": [-41.8125, 58.84375], "nice": false, "zero": false}, "axis": null}, "x2": {"datum": 1},
   "y": {"field": "lo", "type": "quantitative", "scale": {"domain": [7.464392, 33.636498], "nice": false, "zero": false},
     "axis": {"orient": "right", "offset": -1851, "values": [24,25,26,27,28,29,30,31], "format": "d", "domain": false, "grid": false, "tickSize": 18, "tickWidth": 3, "tickColor": "#333333", "labelFont": "DejaVu Sans", "labelFontSize": 44, "labelColor": "#1a1a1a", "labelPadding": 14, "labelFlush": false, "labelOverlap": false, "title": "Speed (kmph)", "titleFont": "Liberation Serif", "titleFontSize": 64, "titleFontWeight": "normal", "titleColor": "#000000", "titleAngle": 270, "titleAlign": "center", "titleBaseline": "middle", "titleX": 202, "titleY": 538}},
   "y2": {"field": "hi"}},
 "layer": [
  {"data": {"name": "cbar"}, "mark": {"type": "rect"},
   "encoding": {"fill": {"field": "lo", "type": "quantitative", "legend": null, "scale": {"type": "threshold", "domain": [24,24.5,25,25.5,26,26.5,27,27.5,28,28.5,29,29.5,30,30.5,31], "range": ["#f6fbfd","#ecf5fa","#dfeef6","#d1e6f2","#c3ddee","#b2d3e9","#a2c8e3","#91bbdc","#8aa8d3","#8b95c9","#9382c0","#9b6cb8","#a355b0","#a535a5","#93128f","#6b0061"]}}}},
  {"data": {"name": "frame"}, "mark": {"type": "rect", "filled": false, "color": "#333333", "strokeWidth": 3}}
 ]},
{"encoding": {"x": {"field": "x", "type": "quantitative", "scale": {"domain": [-1.388235, 1.318487], "nice": false, "zero": false}, "axis": null},
              "y": {"field": "y", "type": "quantitative", "scale": {"domain": [-1.660735, 1.129300], "nice": false, "zero": false}, "axis": null}},
 "layer": [
  {"data": {"name": "pts"}, "transform": [{"filter": "datum.p == 'b'"}], "mark": {"type": "line", "strokeWidth": 0, "strokeOpacity": 0},
   "encoding": {"order": {"field": "o", "type": "quantitative"}, "detail": {"field": "g", "type": "nominal"},
     "fill": {"field": "v", "type": "quantitative", "legend": null, "scale": {"type": "threshold", "domain": [24,24.5,25,25.5,26,26.5,27,27.5,28,28.5,29,29.5,30,30.5,31], "range": ["#f6fbfd","#ecf5fa","#dfeef6","#d1e6f2","#c3ddee","#b2d3e9","#a2c8e3","#91bbdc","#8aa8d3","#8b95c9","#9382c0","#9b6cb8","#a355b0","#a535a5","#93128f","#6b0061"]}}}},
  {"data": {"name": "grid"}, "mark": {"type": "rule", "color": "#4fb0e0", "opacity": 0.45, "strokeWidth": 5}, "encoding": {"x2": {"field": "x2"}, "y2": {"field": "y2"}}},
  {"data": {"name": "pts"}, "transform": [{"filter": "datum.p == 'b' && datum.s != ''"}], "mark": {"type": "line", "color": "#000000", "strokeWidth": 5},
   "encoding": {"order": {"field": "o", "type": "quantitative"}, "detail": {"field": "s", "type": "nominal"}}},
  {"data": {"name": "txt"}, "transform": [{"filter": "datum.p == 'b' && datum.k == 'c'"}], "mark": {"type": "text", "font": "DejaVu Sans", "fontSize": 50, "angle": 62, "color": "#000000", "align": "center", "baseline": "middle"}, "encoding": {"text": {"field": "t"}}},
  {"data": {"name": "strip"}, "transform": [{"filter": "datum.p == 'b'"}], "mark": {"type": "rect", "color": "#ffffff"}, "encoding": {"x2": {"field": "x2"}, "y2": {"field": "y2"}}},
  {"data": {"name": "txt"}, "transform": [{"filter": "datum.p == 'b' && datum.k == 'n'"}], "mark": {"type": "text", "font": "Liberation Serif", "fontSize": 64, "color": "#2d3e50", "align": "center", "baseline": "middle"}, "encoding": {"text": {"field": "t"}}},
  {"data": {"name": "txt"}, "transform": [{"filter": "datum.p == 'b' && datum.k == 'b'"}], "mark": {"type": "text", "font": "Liberation Serif", "fontSize": 66, "color": "#000000", "align": "center", "baseline": "middle"}, "encoding": {"text": {"field": "t"}}},
  {"data": {"name": "txt"}, "transform": [{"filter": "datum.p == 'b' && datum.k == 'h'"}], "mark": {"type": "text", "font": "Liberation Serif", "fontSize": 66, "angle": -55, "color": "#000000", "align": "center", "baseline": "middle"}, "encoding": {"text": {"field": "t"}}},
  {"data": {"name": "txt"}, "transform": [{"filter": "datum.p == 'b' && datum.k == 'v'"}], "mark": {"type": "text", "font": "Liberation Serif", "fontSize": 66, "angle": 55, "color": "#000000", "align": "center", "baseline": "middle"}, "encoding": {"text": {"field": "t"}}},
  {"data": {"name": "txt"}, "transform": [{"filter": "datum.p == 'b' && datum.k == 'g'"}], "mark": {"type": "text", "font": "Liberation Serif", "fontSize": 62, "fontWeight": "bold", "color": "#000000", "align": "center", "baseline": "middle"}, "encoding": {"text": {"field": "t"}}}
 ]},
{"encoding": {"x": {"datum": 0, "type": "quantitative", "scale": {"domain": [-86.235294, 8.5], "nice": false, "zero": false}, "axis": null}, "x2": {"datum": 1},
   "y": {"field": "lo", "type": "quantitative", "scale": {"domain": [7.464392, 33.636498], "nice": false, "zero": false},
     "axis": {"orient": "right", "offset": -255, "values": [24,25,26,27,28,29,30,31], "format": "d", "domain": false, "grid": false, "tickSize": 18, "tickWidth": 3, "tickColor": "#333333", "labelFont": "DejaVu Sans", "labelFontSize": 44, "labelColor": "#1a1a1a", "labelPadding": 14, "labelFlush": false, "labelOverlap": false, "title": "Speed (kmph)", "titleFont": "Liberation Serif", "titleFontSize": 64, "titleFontWeight": "normal", "titleColor": "#000000", "titleAngle": 270, "titleAlign": "center", "titleBaseline": "middle", "titleX": 214, "titleY": 520}},
   "y2": {"field": "hi"}},
 "layer": [
  {"data": {"name": "cbar"}, "mark": {"type": "rect"},
   "encoding": {"fill": {"field": "lo", "type": "quantitative", "legend": null, "scale": {"type": "threshold", "domain": [24,24.5,25,25.5,26,26.5,27,27.5,28,28.5,29,29.5,30,30.5,31], "range": ["#f6fbfd","#ecf5fa","#dfeef6","#d1e6f2","#c3ddee","#b2d3e9","#a2c8e3","#91bbdc","#8aa8d3","#8b95c9","#9382c0","#9b6cb8","#a355b0","#a535a5","#93128f","#6b0061"]}}}},
  {"data": {"name": "frame"}, "mark": {"type": "rect", "filled": false, "color": "#333333", "strokeWidth": 3}}
 ]},
{"encoding": {"x": {"field": "x", "type": "quantitative", "scale": {"domain": [-0.763069, 1.952782], "nice": false, "zero": false}, "axis": null},
              "y": {"field": "y", "type": "quantitative", "scale": {"domain": [-0.350296, 2.433136], "nice": false, "zero": false}, "axis": null}},
 "layer": [
  {"data": {"name": "pts"}, "transform": [{"filter": "datum.p == 'c'"}], "mark": {"type": "line", "strokeWidth": 0, "strokeOpacity": 0},
   "encoding": {"order": {"field": "o", "type": "quantitative"}, "detail": {"field": "g", "type": "nominal"},
     "fill": {"field": "v", "type": "quantitative", "legend": null, "scale": {"type": "threshold", "domain": [24,24.5,25,25.5,26,26.5,27,27.5,28,28.5,29,29.5,30,30.5,31], "range": ["#f6fbfd","#ecf5fa","#dfeef6","#d1e6f2","#c3ddee","#b2d3e9","#a2c8e3","#91bbdc","#8aa8d3","#8b95c9","#9382c0","#9b6cb8","#a355b0","#a535a5","#93128f","#6b0061"]}}}},
  {"data": {"name": "grid"}, "mark": {"type": "rule", "color": "#4fb0e0", "opacity": 0.45, "strokeWidth": 5}, "encoding": {"x2": {"field": "x2"}, "y2": {"field": "y2"}}},
  {"data": {"name": "pts"}, "transform": [{"filter": "datum.p == 'c' && datum.s != ''"}], "mark": {"type": "line", "color": "#000000", "strokeWidth": 5},
   "encoding": {"order": {"field": "o", "type": "quantitative"}, "detail": {"field": "s", "type": "nominal"}}},
  {"data": {"name": "txt"}, "transform": [{"filter": "datum.p == 'c' && datum.k == 'c'"}], "mark": {"type": "text", "font": "DejaVu Sans", "fontSize": 50, "angle": 65, "color": "#000000", "align": "center", "baseline": "middle"}, "encoding": {"text": {"field": "t"}}},
  {"data": {"name": "strip"}, "transform": [{"filter": "datum.p == 'c'"}], "mark": {"type": "rect", "color": "#ffffff"}, "encoding": {"x2": {"field": "x2"}, "y2": {"field": "y2"}}},
  {"data": {"name": "txt"}, "transform": [{"filter": "datum.p == 'c' && datum.k == 'n'"}], "mark": {"type": "text", "font": "Liberation Serif", "fontSize": 64, "color": "#2d3e50", "align": "center", "baseline": "middle"}, "encoding": {"text": {"field": "t"}}},
  {"data": {"name": "txt"}, "transform": [{"filter": "datum.p == 'c' && datum.k == 'b'"}], "mark": {"type": "text", "font": "Liberation Serif", "fontSize": 66, "color": "#000000", "align": "center", "baseline": "middle"}, "encoding": {"text": {"field": "t"}}},
  {"data": {"name": "txt"}, "transform": [{"filter": "datum.p == 'c' && datum.k == 'h'"}], "mark": {"type": "text", "font": "Liberation Serif", "fontSize": 66, "angle": -55, "color": "#000000", "align": "center", "baseline": "middle"}, "encoding": {"text": {"field": "t"}}},
  {"data": {"name": "txt"}, "transform": [{"filter": "datum.p == 'c' && datum.k == 'v'"}], "mark": {"type": "text", "font": "Liberation Serif", "fontSize": 66, "angle": 55, "color": "#000000", "align": "center", "baseline": "middle"}, "encoding": {"text": {"field": "t"}}},
  {"data": {"name": "txt"}, "transform": [{"filter": "datum.p == 'c' && datum.k == 'g'"}], "mark": {"type": "text", "font": "Liberation Serif", "fontSize": 62, "fontWeight": "bold", "color": "#000000", "align": "center", "baseline": "middle"}, "encoding": {"text": {"field": "t"}}}
 ]},
{"encoding": {"x": {"datum": 0, "type": "quantitative", "scale": {"domain": [-66.242424, 31.363636], "nice": false, "zero": false}, "axis": null}, "x2": {"datum": 1},
   "y": {"field": "lo", "type": "quantitative", "scale": {"domain": [19.875, 45.816176], "nice": false, "zero": false},
     "axis": {"orient": "right", "offset": -1002, "values": [24,25,26,27,28,29,30,31], "format": "d", "domain": false, "grid": false, "tickSize": 18, "tickWidth": 3, "tickColor": "#333333", "labelFont": "DejaVu Sans", "labelFontSize": 44, "labelColor": "#1a1a1a", "labelPadding": 14, "labelFlush": false, "labelOverlap": false, "title": "Speed (kmph)", "titleFont": "Liberation Serif", "titleFontSize": 64, "titleFontWeight": "normal", "titleColor": "#000000", "titleAngle": 270, "titleAlign": "center", "titleBaseline": "middle", "titleX": 201, "titleY": 1645}},
   "y2": {"field": "hi"}},
 "layer": [
  {"data": {"name": "cbar"}, "mark": {"type": "rect"},
   "encoding": {"fill": {"field": "lo", "type": "quantitative", "legend": null, "scale": {"type": "threshold", "domain": [24,24.5,25,25.5,26,26.5,27,27.5,28,28.5,29,29.5,30,30.5,31], "range": ["#f6fbfd","#ecf5fa","#dfeef6","#d1e6f2","#c3ddee","#b2d3e9","#a2c8e3","#91bbdc","#8aa8d3","#8b95c9","#9382c0","#9b6cb8","#a355b0","#a535a5","#93128f","#6b0061"]}}}},
  {"data": {"name": "frame"}, "mark": {"type": "rect", "filled": false, "color": "#333333", "strokeWidth": 3}}
 ]}
]
}
